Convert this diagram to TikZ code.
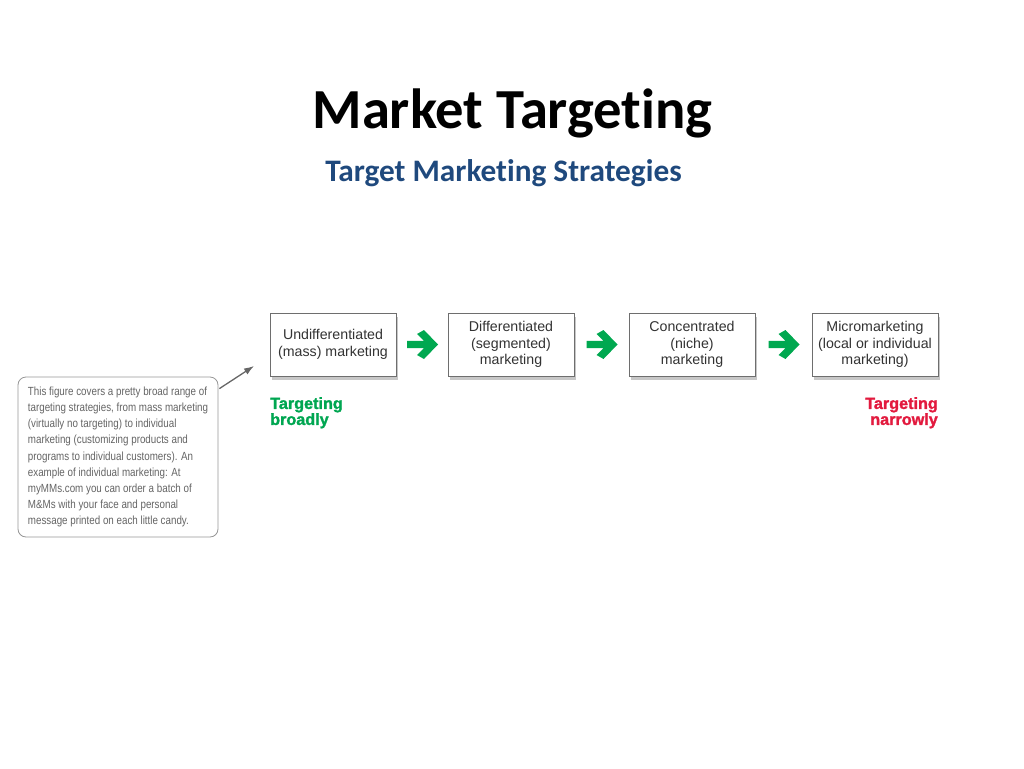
\documentclass[tikz,border=0pt]{standalone}
\usepackage{fontspec}
\setmainfont{Liberation Sans}
\newfontfamily\calibri[Ligatures={NoCommon}]{Carlito}
\newfontfamily\narrowfont[FakeStretch=0.83]{Liberation Sans}
\newfontfamily\heavyfont[FakeBold=1.6]{Liberation Sans Bold}
\usetikzlibrary{shadows,arrows.meta}
\definecolor{titleblue}{RGB}{31,73,125}
\definecolor{arrowgreen}{RGB}{0,168,80}
\definecolor{tgreen}{RGB}{0,166,81}
\definecolor{tred}{RGB}{226,26,62}
\definecolor{boxborder}{RGB}{110,110,110}
\definecolor{calloutborder}{RGB}{150,150,150}
\definecolor{callouttext}{RGB}{100,100,100}
\tikzset{
  stage/.style={draw=boxborder, line width=0.8pt, fill=white, minimum width=126pt, minimum height=63pt,
    inner sep=0pt, align=center, font=\fontsize{14.2}{16.5}\selectfont, text=black!80,
    drop shadow={shadow xshift=2pt, shadow yshift=-4pt, fill=black!40, opacity=0.55}},
  blockarrow/.style={fill=arrowgreen, draw=none},
  tlabel/.style={font=\heavyfont\fontsize{16.2}{16}\selectfont, inner sep=0pt},
  callout/.style={draw=calloutborder, line width=0.8pt, rounded corners=8pt, minimum width=200pt, minimum height=160pt,
    inner sep=0pt, align=left, text=callouttext, font=\narrowfont\fontsize{11.8}{16.1}\selectfont}
}
\begin{document}
\begin{tikzpicture}[x=1pt,y=-1pt]
\useasboundingbox (0,0) rectangle (1024,768);
\node[font=\calibri\bfseries\fontsize{56.6}{60}\selectfont, text=black] (title) at (512.5,113) {Market Targeting};
\node[font=\calibri\bfseries\fontsize{31.3}{34}\selectfont, text=titleblue] (sub) at (503.5,173) {Target Marketing Strategies};

\node[stage] (b1) at (333,344.5) {Undifferentiated\\(mass) marketing};
\node[stage] (b2) at (511,344.5) {Differentiated\\(segmented)\\marketing};
\node[stage] (b3) at (692,344.5) {Concentrated\\(niche)\\marketing};
\node[stage] (b4) at (875,344.5) {Micromarketing\\(local or individual\\marketing)};

\foreach \a/\b in {b1/b2,b2/b3,b3/b4}{
  \path (\a.east) -- (\b.west) coordinate[pos=0.5] (m\a);
  \fill[blockarrow] ([xshift=-15pt,yshift=-3.7pt]m\a) -- ([xshift=2pt,yshift=-3.7pt]m\a) -- ([xshift=-5pt,yshift=-10.5pt]m\a)
     -- ([xshift=2pt,yshift=-14.5pt]m\a) -- ([xshift=16pt]m\a) -- ([xshift=2pt,yshift=14.5pt]m\a)
     -- ([xshift=-5pt,yshift=10.5pt]m\a) -- ([xshift=2pt,yshift=3.7pt]m\a) -- ([xshift=-15pt,yshift=3.7pt]m\a) -- cycle;
}

\node[tlabel, text=tgreen, anchor=north west, align=left] (broad) at (270,397) {Targeting\\broadly};
\node[tlabel, text=tred, anchor=north east, align=right] (narrow) at (938,397) {Targeting\\narrowly};

\node[callout] (note) at (118,457) {This figure covers a pretty broad range of\\targeting strategies, from mass marketing\\(virtually no targeting) to individual\\marketing (customizing products and\\programs to individual customers). An\\example of individual marketing: At\\myMMs.com you can order a batch of\\M\&Ms with your face and personal\\message printed on each little candy.};
\coordinate (tip) at (254,366);
\draw[draw=black!60, line width=1.3pt, -{Latex[length=10pt,width=7pt]}] ([xshift=1pt,yshift=-12pt]note.north east) -- (tip);
\end{tikzpicture}
\end{document}
